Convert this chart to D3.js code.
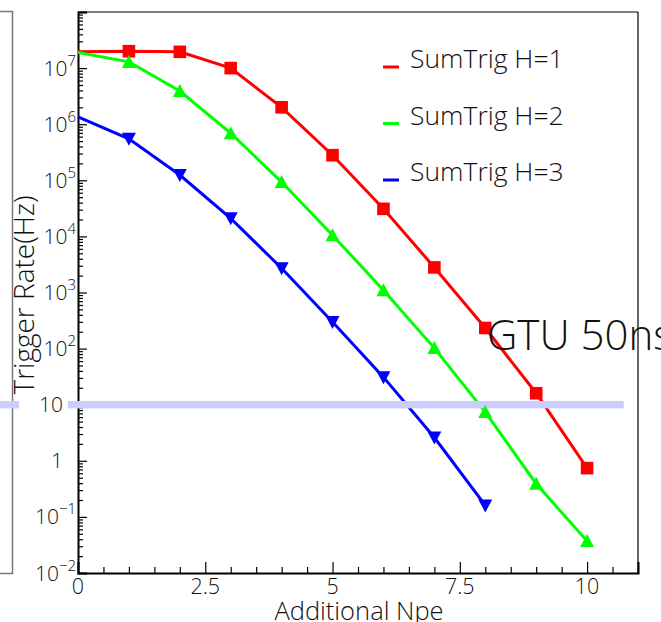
<!DOCTYPE html>
<html><head><meta charset="utf-8">
<script src="https://cdn.jsdelivr.net/npm/d3@7"></script>
<style>
html,body{margin:0;padding:0;background:#fff;overflow:hidden}
text{font-family:"Open Sans","Liberation Sans",sans-serif;font-weight:300;fill:#111}
</style></head>
<body>
<svg id="c" width="661" height="622"></svg>
<script>
// ---- data ----
const npe = [0, 1, 2, 3, 4, 5, 6, 7, 8, 9, 10];
const rateH1 = [1.95e7, 2.0e7, 1.95e7, 1.0e7, 2.0e6, 2.8e5, 3.1e4, 2.8e3, 233, 16, 0.74];
const rateH2 = [1.9e7, 1.29e7, 3.9e6, 6.9e5, 9.3e4, 1.05e4, 1.1e3, 102, 7.4, 0.39, 0.037];
const rateH3 = [1.35e6, 5.5e5, 1.24e5, 2.1e4, 2.7e3, 297, 31, 2.6, 0.16];
const seriesNames = ["SumTrig H=1", "SumTrig H=2", "SumTrig H=3"];
const seriesColors = ["#ff0000", "#00ff00", "#0000ff"];
const seriesMarkers = ["square", "up", "down"];
const xTickLabels = ["0", "2.5", "5", "7.5", "10"];
const xTickValues = [0, 2.5, 5, 7.5, 10];
const yTickExponents = [-2, -1, 0, 1, 2, 3, 4, 5, 6, 7];
const threshold = 10;
const xTitle = "Additional Npe";
const yTitle = "Trigger Rate(Hz)";
const note = "GTU 50ns";

const svg = d3.select("#c");
const x = d3.scaleLinear().domain([0, 11]).range([78, 638]);
const y = d3.scaleLog().domain([1e-2, 1e8]).range([573, 12]);

// outer (previous pad) frame piece on the left
svg.append("path").attr("d", "M0,11.5H12.5V573.5H0").attr("fill", "none")
  .attr("stroke", "#777").attr("stroke-width", 1.5);

// frame
svg.append("line").attr("x1", x(0)).attr("x2", x(11)).attr("y1", 12).attr("y2", 12)
  .attr("stroke", "#808080").attr("stroke-width", 2);
svg.append("line").attr("x1", x(11)).attr("x2", x(11)).attr("y1", 12).attr("y2", 573)
  .attr("stroke", "#000").attr("stroke-width", 1.2);

// x axis
const xMinor = d3.range(0, 11.01, 0.5).filter(v => xTickValues.indexOf(v) < 0);
const gx = svg.append("g").attr("transform", "translate(0,573)");
gx.call(d3.axisBottom(x).tickValues(xTickValues).tickSize(-11).tickFormat(""));
gx.append("g").call(d3.axisBottom(x).tickValues(xMinor).tickSize(-6).tickFormat(""));
gx.selectAll(".domain").attr("stroke", "#000").attr("stroke-width", 2);
gx.selectAll("g > g > .domain").remove();
gx.selectAll("line").attr("stroke", "#000").attr("stroke-width", 1.2);
xTickValues.forEach((v, i) => {
  svg.append("text").attr("x", x(v)).attr("y", 594).attr("text-anchor", "middle")
    .attr("font-size", 21.5).text(xTickLabels[i]);
});
svg.append("text").attr("x", 359).attr("y", 619.5).attr("text-anchor", "middle")
  .attr("font-size", 25.5).text(xTitle);

// y axis
const yMajor = yTickExponents.map(e => Math.pow(10, e)).concat([1e8]);
const yMinor = [];
for (let e = -2; e < 8; e++) for (let m = 2; m <= 9; m++) yMinor.push(m * Math.pow(10, e));
const gy = svg.append("g").attr("transform", "translate(78,0)");
gy.call(d3.axisLeft(y).tickValues(yMajor).tickSize(-9).tickFormat(""));
gy.append("g").call(d3.axisLeft(y).tickValues(yMinor).tickSize(-5).tickFormat(""));
gy.selectAll(".domain").attr("stroke", "#000").attr("stroke-width", 2);
gy.selectAll("g > g > .domain").remove();
gy.selectAll("line").attr("stroke", "#000").attr("stroke-width", 1.2);

yTickExponents.forEach(e => {
  const yy = y(Math.pow(10, e));
  if (e === 0 || e === 1) {
    svg.append("text").attr("x", 63).attr("y", yy + 7.5).attr("text-anchor", "end")
      .attr("font-size", 21).text(e === 0 ? "1" : "10");
  } else {
    const sup = e < 0 ? "\u2212" + (-e) : String(e);
    const t = svg.append("text").attr("x", 76).attr("y", yy + 7.5).attr("text-anchor", "end")
      .attr("font-size", 21);
    t.append("tspan").text("10");
    t.append("tspan").attr("dy", -10).attr("font-size", 15).text(sup);
  }
});
svg.append("text").attr("transform", "translate(34,295) rotate(-90)")
  .attr("text-anchor", "middle").attr("font-size", 28).text(yTitle);

// series lines
const allRates = [rateH1, rateH2, rateH3];
const line = d3.line().x(d => x(d[0])).y(d => y(d[1]));
allRates.forEach((r, i) => {
  const pts = r.map((v, j) => [npe[j], v]);
  svg.append("path").attr("d", line(pts)).attr("fill", "none")
    .attr("stroke", seriesColors[i]).attr("stroke-width", 3);
});

// threshold band
const yb = y(threshold);
svg.append("rect").attr("x", 0).attr("y", yb - 3.7).attr("width", 19).attr("height", 7.4)
  .attr("fill", "#ccccff");
svg.append("rect").attr("x", x(-0.2)).attr("y", yb - 3.7).attr("width", x(10.72) - x(-0.2))
  .attr("height", 7.4).attr("fill", "#ccccff");

// markers
function markerPath(type, cx, cy) {
  if (type === "square") return `M${cx - 6.3},${cy - 6.3}h12.6v12.6h-12.6Z`;
  if (type === "up") return `M${cx},${cy - 7}L${cx + 7},${cy + 6}L${cx - 7},${cy + 6}Z`;
  return `M${cx},${cy + 7}L${cx + 7},${cy - 6}L${cx - 7},${cy - 6}Z`;
}
allRates.forEach((r, i) => {
  const pts = r.map((v, j) => [npe[j], v]).filter(d => d[0] > 0);
  svg.append("g").selectAll("path").data(pts).join("path")
    .attr("d", d => markerPath(seriesMarkers[i], x(d[0]), y(d[1])))
    .attr("fill", seriesColors[i]);
});

// legend
seriesNames.forEach((n, i) => {
  const ly = 67 + i * 56.5;
  svg.append("line").attr("x1", 383).attr("x2", 399).attr("y1", ly).attr("y2", ly)
    .attr("stroke", seriesColors[i]).attr("stroke-width", 3);
  svg.append("text").attr("x", 410).attr("y", ly + 1).attr("font-size", 26.5).text(n);
});

// note
svg.append("text").attr("x", 487).attr("y", 350).attr("font-size", 42).text(note);
</script>
</body></html>
